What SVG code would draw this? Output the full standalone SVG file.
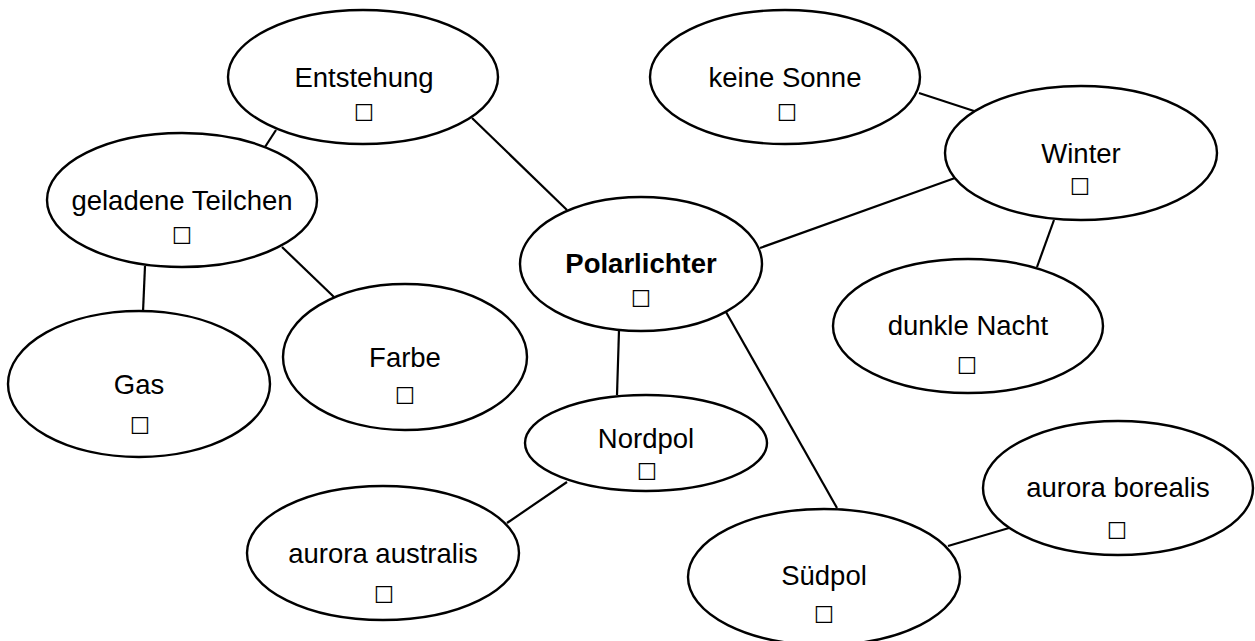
<svg xmlns="http://www.w3.org/2000/svg" width="1255" height="641" viewBox="0 0 1255 641">
<style>
.n{fill:#fff;stroke:#000;stroke-width:2.4}
.t{font-family:"Liberation Sans",Arial,sans-serif;font-size:27.5px;fill:#000;text-anchor:middle}
.b{font-weight:bold}
.c{font-family:"DejaVu Sans",sans-serif;font-size:23px;fill:#000;text-anchor:middle}
#edges line{stroke:#000;stroke-width:2.2}
</style>
<rect width="1255" height="641" fill="#fff"/>
<g id="edges">
<line x1="276" y1="130" x2="265" y2="147"/>
<line x1="472" y1="118" x2="567" y2="210"/>
<line x1="145" y1="266" x2="143" y2="312"/>
<line x1="282" y1="247" x2="334" y2="297"/>
<line x1="919" y1="93" x2="974" y2="111"/>
<line x1="760" y1="248" x2="955" y2="178"/>
<line x1="1054" y1="220" x2="1037" y2="267"/>
<line x1="619" y1="330" x2="617" y2="395"/>
<line x1="726" y1="312" x2="837" y2="508"/>
<line x1="567" y1="482" x2="507" y2="523"/>
<line x1="948" y1="546" x2="1009" y2="528"/>
</g>
<g id="n-entstehung"><ellipse class="n" cx="363" cy="77" rx="135" ry="67"/><text class="t" x="364" y="87">Entstehung</text><text class="c" x="364" y="121">☐</text></g>
<g id="n-teilchen"><ellipse class="n" cx="182" cy="200" rx="135" ry="67"/><text class="t" x="182" y="210">geladene Teilchen</text><text class="c" x="182" y="244">☐</text></g>
<g id="n-gas"><ellipse class="n" cx="139" cy="384" rx="131" ry="73"/><text class="t" x="139" y="394">Gas</text><text class="c" x="140" y="434">☐</text></g>
<g id="n-farbe"><ellipse class="n" cx="405" cy="357" rx="122" ry="73"/><text class="t" x="405" y="367">Farbe</text><text class="c" x="405" y="404">☐</text></g>
<g id="n-australis"><ellipse class="n" cx="383" cy="553" rx="136" ry="67"/><text class="t" x="383" y="563">aurora australis</text><text class="c" x="384" y="603">☐</text></g>
<g id="n-polarlichter"><ellipse class="n" cx="641" cy="264" rx="121" ry="67"/><text class="t b" x="641" y="273">Polarlichter</text><text class="c" x="641" y="307">☐</text></g>
<g id="n-nordpol"><ellipse class="n" cx="646" cy="443" rx="121" ry="48"/><text class="t" x="646" y="448">Nordpol</text><text class="c" x="647" y="480">☐</text></g>
<g id="n-suedpol"><ellipse class="n" cx="824" cy="577" rx="136" ry="68"/><text class="t" x="824" y="585">Südpol</text><text class="c" x="824" y="623">☐</text></g>
<g id="n-borealis"><ellipse class="n" cx="1118" cy="488" rx="135" ry="67"/><text class="t" x="1118" y="497">aurora borealis</text><text class="c" x="1117" y="539">☐</text></g>
<g id="n-sonne"><ellipse class="n" cx="785" cy="77" rx="135" ry="67"/><text class="t" x="785" y="87">keine Sonne</text><text class="c" x="787" y="121">☐</text></g>
<g id="n-winter"><ellipse class="n" cx="1081" cy="153" rx="136" ry="67"/><text class="t" x="1081" y="163">Winter</text><text class="c" x="1080" y="195">☐</text></g>
<g id="n-nacht"><ellipse class="n" cx="968" cy="326" rx="135" ry="67"/><text class="t" x="968" y="335">dunkle Nacht</text><text class="c" x="967" y="374">☐</text></g>
</svg>
